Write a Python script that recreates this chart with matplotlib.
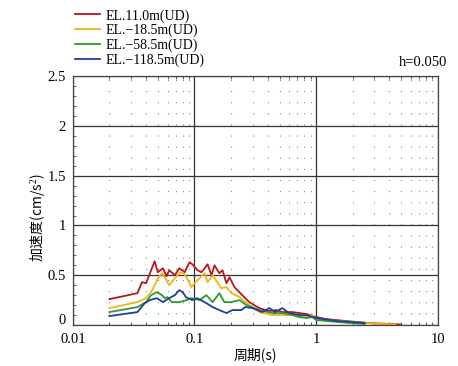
import numpy as np
import matplotlib
matplotlib.use('Agg')
import matplotlib.pyplot as plt
import matplotlib.transforms as mtransforms
from matplotlib.ticker import LogLocator, MultipleLocator, NullFormatter, FixedFormatter, FixedLocator

plt.rcParams['font.family'] = ['Liberation Serif', 'Noto Sans CJK SC']
plt.rcParams['mathtext.fontset'] = 'custom'
plt.rcParams['mathtext.rm'] = 'Liberation Serif'

# -------------------------------------------------------------------------
# 応答スペクトル (h=0.050) — 周期 [s] / 加速度 [cm/s^2]
# -------------------------------------------------------------------------
T_RED = [0.02, 0.034, 0.037, 0.040, 0.047, 0.050, 0.055, 0.059, 0.062, 0.069,
         0.075, 0.083, 0.091, 0.096, 0.106, 0.114, 0.121, 0.128, 0.138, 0.146,
         0.160, 0.170, 0.183, 0.194, 0.213, 0.247, 0.282, 0.34, 0.41, 0.47,
         0.53, 0.64, 0.73, 0.83, 1.0, 1.2, 1.76, 2.7, 5.0]
A_RED = [0.26, 0.32, 0.43, 0.42, 0.64, 0.53, 0.57, 0.49, 0.55, 0.50,
         0.57, 0.53, 0.63, 0.61, 0.55, 0.53, 0.57, 0.61, 0.50, 0.60,
         0.52, 0.55, 0.42, 0.48, 0.38, 0.30, 0.23, 0.17, 0.14, 0.15,
         0.13, 0.13, 0.12, 0.11, 0.08, 0.06, 0.04, 0.02, 0.005]

T_YEL = [0.02, 0.034, 0.040, 0.045, 0.050, 0.054, 0.057, 0.062, 0.069, 0.075,
         0.080, 0.086, 0.0945, 0.100, 0.110, 0.121, 0.128, 0.141, 0.150, 0.166,
         0.183, 0.201, 0.234, 0.282, 0.341, 0.436, 0.636, 0.828, 0.93, 1.0,
         1.5, 2.5, 4.5]
A_YEL = [0.17, 0.23, 0.27, 0.35, 0.47, 0.52, 0.48, 0.40, 0.47, 0.52,
         0.53, 0.48, 0.38, 0.42, 0.47, 0.52, 0.43, 0.50, 0.45, 0.37,
         0.38, 0.32, 0.28, 0.20, 0.13, 0.10, 0.10, 0.08, 0.10, 0.06,
         0.04, 0.02, 0.005]

T_GRN = [0.02, 0.034, 0.040, 0.044, 0.049, 0.054, 0.057, 0.060, 0.065, 0.075,
         0.086, 0.0945, 0.110, 0.125, 0.141, 0.160, 0.176, 0.20, 0.234, 0.267,
         0.341, 0.436, 0.53, 0.636, 0.726, 0.83, 0.93, 1.0, 1.5, 2.5]
A_GRN = [0.13, 0.18, 0.23, 0.30, 0.33, 0.30, 0.27, 0.28, 0.23, 0.23,
         0.25, 0.27, 0.25, 0.30, 0.23, 0.32, 0.23, 0.23, 0.25, 0.20,
         0.15, 0.12, 0.12, 0.10, 0.08, 0.07, 0.08, 0.05, 0.03, 0.01]

T_BLU = [0.02, 0.034, 0.039, 0.043, 0.049, 0.055, 0.062, 0.069, 0.075, 0.080,
         0.085, 0.096, 0.105, 0.125, 0.141, 0.160, 0.183, 0.205, 0.243, 0.26,
         0.299, 0.361, 0.412, 0.46, 0.526, 0.60, 0.726, 0.83, 1.0, 1.5, 2.5]
A_BLU = [0.09, 0.13, 0.22, 0.25, 0.27, 0.23, 0.27, 0.30, 0.35, 0.33,
         0.28, 0.25, 0.27, 0.22, 0.18, 0.15, 0.12, 0.15, 0.15, 0.18,
         0.17, 0.13, 0.17, 0.13, 0.17, 0.12, 0.10, 0.10, 0.07, 0.04, 0.02]

SERIES = [
    ('EL.11.0m(UD)',   T_RED, A_RED, '#b8161c'),
    ('EL.\u221218.5m(UD)',  T_YEL, A_YEL, '#f0b419'),
    ('EL.\u221258.5m(UD)',  T_GRN, A_GRN, '#2c9a2c'),
    ('EL.\u2212118.5m(UD)', T_BLU, A_BLU, '#1f3f9c'),
]

Y_TICKS = [0, 0.5, 1, 1.5, 2, 2.5]
Y_LABELS = ['0', '0.5', '1', '1.5', '2', '2.5']
X_TICKS = [0.01, 0.1, 1, 10]
X_LABELS = ['0.01', '0.1', '1', '10']

fig = plt.figure(figsize=(4.58, 3.66), dpi=100)
ax = fig.add_axes([0.159, 0.112, 0.797, 0.680])

for label, t, a, color in SERIES:
    ax.plot(t, a, color=color, lw=1.3, label=label)

ax.set_xscale('log')
ax.set_xlim(0.01, 10)
ax.set_ylim(0, 2.5)

ax.xaxis.set_major_locator(FixedLocator(X_TICKS))
ax.xaxis.set_major_formatter(FixedFormatter(X_LABELS))
ax.xaxis.set_minor_locator(LogLocator(base=10, subs=np.arange(2, 10)))
ax.xaxis.set_minor_formatter(NullFormatter())
ax.yaxis.set_major_locator(FixedLocator(Y_TICKS))
ax.yaxis.set_major_formatter(FixedFormatter(Y_LABELS))
ax.yaxis.set_minor_locator(MultipleLocator(0.1))

ax.tick_params(which='both', direction='in', top=True, right=False, labelsize=10.5)
ax.tick_params(which='major', length=0)
ax.tick_params(axis='x', which='major', pad=6)
ax.tick_params(axis='y', which='major', pad=5)
ax.tick_params(which='minor', length=2.5, width=0.6, color='#444444')

# 主グリッド(実線)と副グリッド(点線)
ax.grid(True, which='major', color='#333333', lw=0.9)
ax.grid(True, which='minor', axis='x', color='#888888', lw=0.8, linestyle=(0, (1, 9)))
ax.set_axisbelow(True)
for sp in ax.spines.values():
    sp.set_color('#444444')
    sp.set_linewidth(0.9)

# y=0 のラベルは 0.01 と重ならないよう少し上へ
fig.canvas.draw()
ylab0 = ax.get_yticklabels()[0]
ylab0.set_transform(ylab0.get_transform() + mtransforms.ScaledTranslation(0, 4 / 72, fig.dpi_scale_trans))

ax.set_xlabel('周期(s)', fontsize=10, labelpad=1, family=['Noto Sans CJK SC'])
ax.set_ylabel('加速度(cm/s$^2$)', fontsize=10, family=['Noto Sans CJK SC', 'Liberation Serif'])
ax.yaxis.set_label_coords(-0.068, 0.434)

fig.text(0.976, 0.811, 'h=0.050', ha='right', va='bottom', fontsize=10.5)

fig.legend(loc='upper left', bbox_to_anchor=(0.145, 1.0), frameon=False,
           fontsize=10, handlelength=1.8, handletextpad=0.4, labelspacing=0.1,
           borderaxespad=0.25)

plt.savefig('out.png', dpi=100)
plt.close()
